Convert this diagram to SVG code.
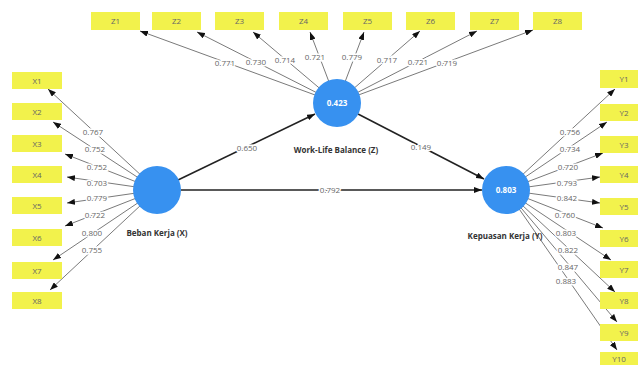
<svg xmlns="http://www.w3.org/2000/svg" width="640" height="365" viewBox="0 0 640 365">
<defs>
<marker id="ah" markerUnits="userSpaceOnUse" markerWidth="8" markerHeight="6" refX="8" refY="3" orient="auto"><path d="M0,0 L8,3 L0,6 z" fill="#111"/></marker>
<style>
.ld{stroke:#7a7a7a;stroke-width:1;fill:none;marker-end:url(#ah)}
.st{stroke:#222;stroke-width:1.6;fill:none;marker-end:url(#ah)}
.ind rect{fill:#f2f24c}
.ind text{font-family:"Open Sans","Liberation Sans",sans-serif;font-size:8px;fill:#666;text-anchor:middle}
.lv circle{fill:#3791f0}
.lv .v{font-family:"Open Sans","Liberation Sans",sans-serif;font-size:8px;font-weight:bold;fill:#fff;text-anchor:middle}
.lv .n{font-family:"Open Sans","Liberation Sans",sans-serif;font-size:8px;font-weight:bold;fill:#333;text-anchor:middle}
.lb{font-family:"Open Sans","Liberation Sans",sans-serif;font-size:8px;fill:#666;text-anchor:middle;stroke:#fff;stroke-width:3;paint-order:stroke}
</style>
</defs>
<rect width="640" height="365" fill="#fff"/>
<g id="connectors">
<line class="ld" x1="337" y1="103" x2="140" y2="31"/>
<line class="ld" x1="337" y1="103" x2="197" y2="32"/>
<line class="ld" x1="337" y1="103" x2="253" y2="32"/>
<line class="ld" x1="337" y1="103" x2="310" y2="32"/>
<line class="ld" x1="337" y1="103" x2="364" y2="32"/>
<line class="ld" x1="337" y1="103" x2="420" y2="31"/>
<line class="ld" x1="337" y1="103" x2="477" y2="31"/>
<line class="ld" x1="337" y1="103" x2="533" y2="30"/>
<line class="ld" x1="157" y1="190" x2="48" y2="89"/>
<line class="ld" x1="157" y1="190" x2="53" y2="122"/>
<line class="ld" x1="157" y1="190" x2="65" y2="154"/>
<line class="ld" x1="157" y1="190" x2="67" y2="177"/>
<line class="ld" x1="157" y1="190" x2="67" y2="203"/>
<line class="ld" x1="157" y1="190" x2="65" y2="226"/>
<line class="ld" x1="157" y1="190" x2="53" y2="260"/>
<line class="ld" x1="157" y1="190" x2="50" y2="290"/>
<line class="ld" x1="506" y1="190" x2="615" y2="89"/>
<line class="ld" x1="506" y1="190" x2="607" y2="122"/>
<line class="ld" x1="506" y1="190" x2="603" y2="153"/>
<line class="ld" x1="506" y1="190" x2="600" y2="177"/>
<line class="ld" x1="506" y1="190" x2="600" y2="203"/>
<line class="ld" x1="506" y1="190" x2="603" y2="228"/>
<line class="ld" x1="506" y1="190" x2="611" y2="260"/>
<line class="ld" x1="506" y1="190" x2="615" y2="292"/>
<line class="ld" x1="506" y1="190" x2="617" y2="322"/>
<line class="ld" x1="506" y1="190" x2="617" y2="350"/>
<line class="st" x1="178" y1="180" x2="315" y2="114"/>
<line class="st" x1="358" y1="114" x2="484" y2="179"/>
<line class="st" x1="181" y1="190" x2="482" y2="190"/>
<text class="lb" x="225" y="66">0.771</text>
<text class="lb" x="256" y="65">0.730</text>
<text class="lb" x="285" y="63">0.714</text>
<text class="lb" x="315" y="60">0.721</text>
<text class="lb" x="352" y="60">0.779</text>
<text class="lb" x="387" y="63">0.717</text>
<text class="lb" x="418" y="65">0.721</text>
<text class="lb" x="447" y="66">0.719</text>
<text class="lb" x="93" y="135">0.767</text>
<text class="lb" x="95" y="152">0.752</text>
<text class="lb" x="97" y="170">0.752</text>
<text class="lb" x="97" y="186">0.703</text>
<text class="lb" x="97" y="201">0.779</text>
<text class="lb" x="95" y="218">0.722</text>
<text class="lb" x="92" y="236">0.800</text>
<text class="lb" x="92" y="253">0.755</text>
<text class="lb" x="570" y="135">0.756</text>
<text class="lb" x="570" y="152">0.734</text>
<text class="lb" x="568" y="170">0.720</text>
<text class="lb" x="567" y="186">0.793</text>
<text class="lb" x="567" y="201">0.842</text>
<text class="lb" x="565" y="218">0.760</text>
<text class="lb" x="566" y="236">0.803</text>
<text class="lb" x="568" y="253">0.822</text>
<text class="lb" x="568" y="270">0.847</text>
<text class="lb" x="566" y="284">0.883</text>
<text class="lb" x="247" y="151">0.650</text>
<text class="lb" x="421" y="150">0.149</text>
<text class="lb" x="330" y="193">0.792</text>
</g>
<g id="Z1" class="ind"><rect x="91" y="12" width="49" height="18"/><text x="115.5" y="24">Z1</text></g>
<g id="Z2" class="ind"><rect x="152" y="12" width="49" height="18"/><text x="176.5" y="24">Z2</text></g>
<g id="Z3" class="ind"><rect x="215" y="12" width="49" height="18"/><text x="239.5" y="24">Z3</text></g>
<g id="Z4" class="ind"><rect x="279" y="12" width="49" height="18"/><text x="303.5" y="24">Z4</text></g>
<g id="Z5" class="ind"><rect x="343" y="12" width="49" height="18"/><text x="367.5" y="24">Z5</text></g>
<g id="Z6" class="ind"><rect x="406" y="12" width="49" height="18"/><text x="430.5" y="24">Z6</text></g>
<g id="Z7" class="ind"><rect x="470" y="12" width="49" height="18"/><text x="494.5" y="24">Z7</text></g>
<g id="Z8" class="ind"><rect x="533" y="12" width="49" height="18"/><text x="557.5" y="24">Z8</text></g>
<g id="X1" class="ind"><rect x="12" y="72" width="50" height="17"/><text x="37" y="83.5">X1</text></g>
<g id="X2" class="ind"><rect x="12" y="103" width="50" height="17"/><text x="37" y="114.5">X2</text></g>
<g id="X3" class="ind"><rect x="12" y="135" width="50" height="17"/><text x="37" y="146.5">X3</text></g>
<g id="X4" class="ind"><rect x="12" y="166" width="50" height="17"/><text x="37" y="177.5">X4</text></g>
<g id="X5" class="ind"><rect x="12" y="197" width="50" height="17"/><text x="37" y="208.5">X5</text></g>
<g id="X6" class="ind"><rect x="12" y="229" width="50" height="17"/><text x="37" y="240.5">X6</text></g>
<g id="X7" class="ind"><rect x="12" y="262" width="50" height="17"/><text x="37" y="273.5">X7</text></g>
<g id="X8" class="ind"><rect x="12" y="292" width="50" height="17"/><text x="37" y="303.5">X8</text></g>
<g id="Y1" class="ind"><rect x="600" y="70" width="38" height="18"/><text x="624" y="82">Y1</text></g>
<g id="Y2" class="ind"><rect x="600" y="104" width="38" height="17"/><text x="624" y="115.5">Y2</text></g>
<g id="Y3" class="ind"><rect x="600" y="136" width="38" height="17"/><text x="624" y="147.5">Y3</text></g>
<g id="Y4" class="ind"><rect x="600" y="166" width="38" height="17"/><text x="624" y="177.5">Y4</text></g>
<g id="Y5" class="ind"><rect x="600" y="198" width="38" height="17"/><text x="624" y="209.5">Y5</text></g>
<g id="Y6" class="ind"><rect x="600" y="230" width="38" height="17"/><text x="624" y="241.5">Y6</text></g>
<g id="Y7" class="ind"><rect x="600" y="261" width="38" height="17"/><text x="624" y="272.5">Y7</text></g>
<g id="Y8" class="ind"><rect x="600" y="292" width="38" height="17"/><text x="624" y="303.5">Y8</text></g>
<g id="Y9" class="ind"><rect x="600" y="324" width="38" height="17"/><text x="624" y="335.5">Y9</text></g>
<g id="Y10" class="ind"><rect x="600" y="352" width="38" height="17"/><text x="619" y="362">Y10</text></g>
<g id="X" class="lv"><circle cx="157" cy="190" r="24"/><text class="n" x="157" y="236">Beban Kerja (X)</text></g>
<g id="Z" class="lv"><circle cx="337" cy="103" r="24"/><text class="v" x="337" y="106">0.423</text><text class="n" x="336" y="153">Work-Life Balance (Z)</text></g>
<g id="Y" class="lv"><circle cx="506" cy="190" r="24"/><text class="v" x="506" y="193">0.803</text><text class="n" x="505" y="239">Kepuasan Kerja (Y)</text></g>
</svg>
